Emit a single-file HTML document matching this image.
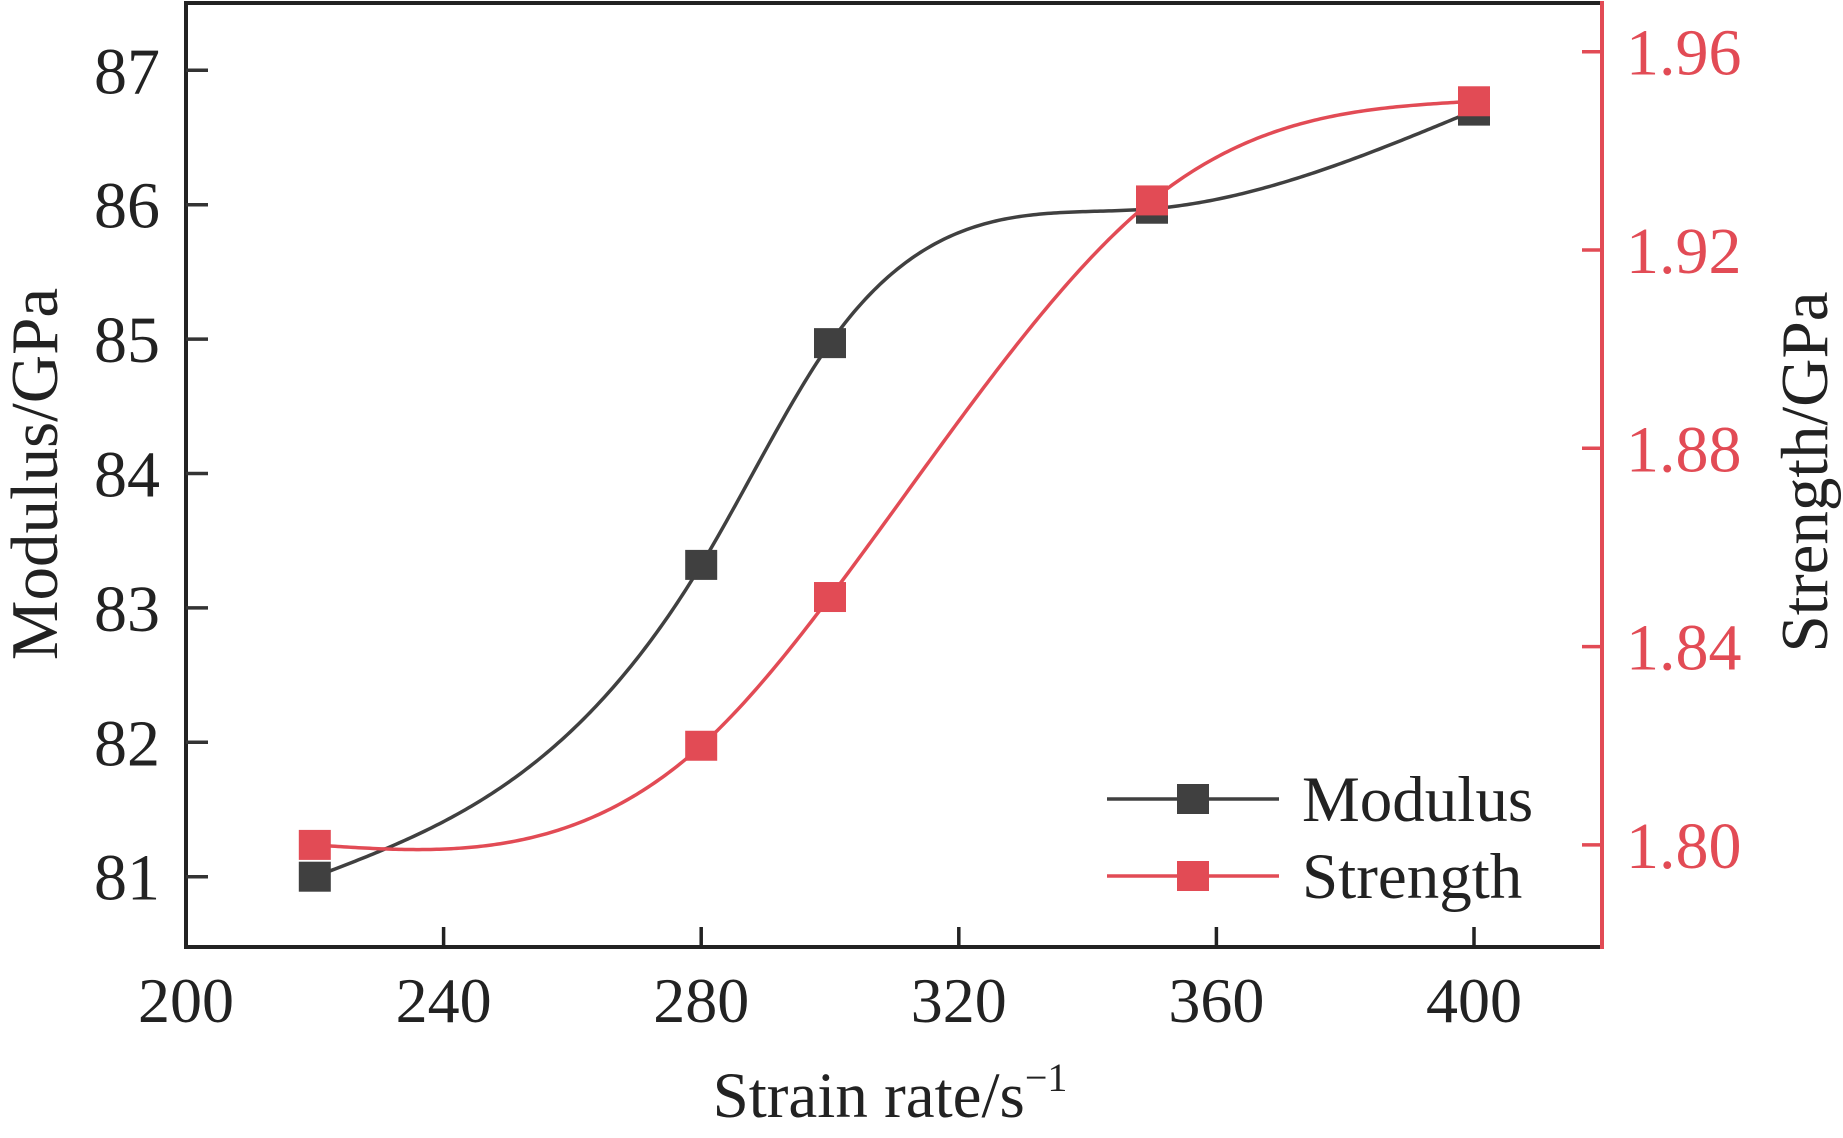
<!DOCTYPE html>
<html><head><meta charset="utf-8"><style>
html,body{margin:0;padding:0;background:#fff;}
svg{display:block;font-family:"Liberation Serif",serif;}
</style></head><body>
<svg id="chart" width="1843" height="1138" viewBox="0 0 1843 1138">
<g id="axes"></g>
<g id="series"></g>
<g id="legend"></g>
</svg>
<script>
const strainRates = [220, 280, 300, 350, 400];
const modulusValues = [81.0, 83.32, 84.97, 85.97, 86.7];
const strengthValues = [1.80, 1.82, 1.85, 1.93, 1.95];
const xTickValues = [200, 240, 280, 320, 360, 400];
const leftTickValues = [81, 82, 83, 84, 85, 86, 87];
const rightTickValues = [1.80, 1.84, 1.88, 1.92, 1.96];

const NS = 'http://www.w3.org/2000/svg';
const L = 186, R = 1602, T = 3, B = 947;
const DARK = '#404040', RED = '#e24b55';
function xs(v){ return 186 + (v - 200) * (257.6 / 40); }
function yl(v){ return 70.3 + (87 - v) * 134.4; }
function yr(v){ return 51.7 + (1.96 - v) * (198.3 / 0.04); }

function mk(tag, attrs, parent){
  const e = document.createElementNS(NS, tag);
  for (const k in attrs) e.setAttribute(k, attrs[k]);
  parent.appendChild(e);
  return e;
}
const axes = document.getElementById('axes');
const series = document.getElementById('series');
const legend = document.getElementById('legend');

let e;
e = mk('line', {x1:L, y1:T, x2:R, y2:T, stroke:'#222', 'stroke-width':4}, axes);


e = mk('line', {x1:L, y1:T-2, x2:L, y2:B+2, stroke:'#222', 'stroke-width':4}, axes);


e = mk('line', {x1:L, y1:B, x2:R, y2:B, stroke:'#222', 'stroke-width':4}, axes);


e = mk('line', {x1:R, y1:T-2, x2:R, y2:B+2, stroke:RED, 'stroke-width':4}, axes);



xTickValues.forEach(v => {
  const x = xs(v);
  let t = mk('line', {x1:x, y1:B, x2:x, y2:B-20, stroke:'#222', 'stroke-width':3.5}, axes);
  
  
  let lb = mk('text', {x:x, y:1022, 'text-anchor':'middle', 'font-size':64, fill:'#222'}, axes);
  lb.textContent = v;
  
  
});
leftTickValues.forEach(v => {
  const y = yl(v);
  let t = mk('line', {x1:L, y1:y, x2:L+22, y2:y, stroke:'#333', 'stroke-width':3.5}, axes);
  
  
  let lb = mk('text', {x:160, y:y+23, 'text-anchor':'end', 'font-size':66, fill:'#222'}, axes);
  lb.textContent = v;
  
  
});
rightTickValues.forEach(v => {
  const y = yr(v);
  let t = mk('line', {x1:R, y1:y, x2:R-20, y2:y, stroke:RED, 'stroke-width':3.5}, axes);
  
  
  let lb = mk('text', {x:1626, y:y+23, 'text-anchor':'start', 'font-size':66, fill:RED}, axes);
  lb.textContent = v.toFixed(2);
  
  
});

e = mk('text', {x:890, y:1117, 'text-anchor':'middle', 'font-size':65, fill:'#222'}, axes);
e.innerHTML = 'Strain rate/s<tspan dy="-26" font-size="40">−1</tspan>';


e = mk('text', {x:0, y:0, 'text-anchor':'middle', 'font-size':67, fill:'#222', transform:'translate(57,474) rotate(-90)'}, axes);
e.textContent = 'Modulus/GPa';


e = mk('text', {x:0, y:0, 'text-anchor':'middle', 'font-size':67, fill:'#222', transform:'translate(1827,472) rotate(-90)'}, axes);
e.textContent = 'Strength/GPa';



function spline(xv, yv){
  const n = xv.length, h = [], M = new Array(n).fill(0);
  for (let i=0;i<n-1;i++) h.push(xv[i+1]-xv[i]);
  const sub=[], diag=[], sup=[], rhs=[];
  for (let i=1;i<n-1;i++){
    sub.push(h[i-1]); diag.push(2*(h[i-1]+h[i])); sup.push(h[i]);
    rhs.push(6*((yv[i+1]-yv[i])/h[i] - (yv[i]-yv[i-1])/h[i-1]));
  }
  const m = diag.length;
  for (let i=1;i<m;i++){ const w = sub[i]/diag[i-1]; diag[i]-=w*sup[i-1]; rhs[i]-=w*rhs[i-1]; }
  const sol = new Array(m);
  for (let i=m-1;i>=0;i--) sol[i] = (rhs[i] - (i<m-1 ? sup[i]*sol[i+1] : 0))/diag[i];
  for (let i=0;i<m;i++) M[i+1]=sol[i];
  return function(x){
    let i = 0; while (i < n-2 && x > xv[i+1]) i++;
    const t1 = xv[i+1]-x, t0 = x-xv[i], hi = h[i];
    return M[i]*t1*t1*t1/(6*hi) + M[i+1]*t0*t0*t0/(6*hi) + (yv[i]/hi - M[i]*hi/6)*t1 + (yv[i+1]/hi - M[i+1]*hi/6)*t0;
  };
}
function drawSeries(vals, yfn, color, name){
  const f = spline(strainRates, vals);
  let d = '';
  const x0 = strainRates[0], x1 = strainRates[strainRates.length-1];
  for (let k=0;k<=400;k++){
    const x = x0 + (x1-x0)*k/400;
    d += (k? 'L':'M') + xs(x).toFixed(2) + ',' + yfn(f(x)).toFixed(2);
  }
  const p = mk('path', {d:d, fill:'none', stroke:color, 'stroke-width':3.5}, series);
  
  
  return f;
}
drawSeries(modulusValues, yl, DARK, 'modulus');
drawSeries(strengthValues, yr, RED, 'strength');
strainRates.forEach((x, i) => {
  const r = mk('rect', {x:xs(x)-16, y:yl(modulusValues[i])-15, width:32, height:30, fill:DARK}, series);
  
  
});
strainRates.forEach((x, i) => {
  const r = mk('rect', {x:xs(x)-16, y:yr(strengthValues[i])-15, width:32, height:30, fill:RED}, series);
  
  
});

[['Modulus', DARK, 799, 'legend-modulus'], ['Strength', RED, 876, 'legend-strength']].forEach(it => {
  const g = mk('g', {}, legend);
  
  
  mk('line', {x1:1107, y1:it[2], x2:1279, y2:it[2], stroke:it[1], 'stroke-width':3.5}, g);
  mk('rect', {x:1177, y:it[2]-15, width:32, height:30, fill:it[1]}, g);
  const t = mk('text', {x:1302, y:it[2]+22, 'font-size':65, fill:'#222'}, g);
  t.textContent = it[0];
});
</script>
</body></html>
